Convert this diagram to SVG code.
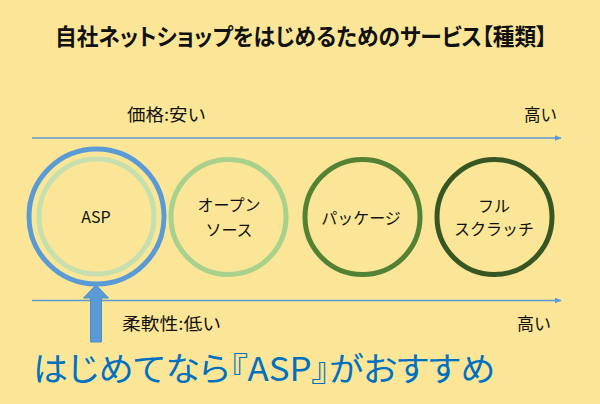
<svg xmlns="http://www.w3.org/2000/svg" width="600" height="404" viewBox="0 0 600 404">
<defs>
<style>
.t{font-family:"Noto Sans CJK JP","Liberation Sans",sans-serif;fill:#111;}
.lbl{font-size:16px;text-anchor:middle;}
.ax{font-size:17px;}
.ring{fill:none;stroke-width:5;}
.axis{stroke:#5B9BD5;stroke-width:1.3;fill:none;}
.p{font-feature-settings:"palt";}
</style>
<marker id="ah" viewBox="0 0 10 10" refX="9" refY="5" markerWidth="7" markerHeight="6" markerUnits="userSpaceOnUse" orient="auto" preserveAspectRatio="none">
<path d="M0,0 L10,5 L0,10 z" fill="#5B9BD5"/>
</marker>
</defs>
<rect width="600" height="404" fill="#FBE697"/>
<text id="title" class="t p" x="55" y="45" font-size="23" font-weight="bold" textLength="492" lengthAdjust="spacingAndGlyphs">自社ネットショップをはじめるためのサービス【種類】</text>
<text class="t ax" x="127" y="121" textLength="79" lengthAdjust="spacingAndGlyphs">価格:安い</text>
<text class="t ax" x="524" y="121" textLength="33" lengthAdjust="spacingAndGlyphs">高い</text>
<text class="t ax" x="122" y="330" textLength="99" lengthAdjust="spacingAndGlyphs">柔軟性:低い</text>
<text class="t ax" x="517" y="330" textLength="34" lengthAdjust="spacingAndGlyphs">高い</text>
<g id="connectors">
<line class="axis" x1="32" y1="138" x2="561" y2="138" marker-end="url(#ah)"/>
<line class="axis" x1="32" y1="300.5" x2="561" y2="300.5" marker-end="url(#ah)"/>
<polygon points="96,285 108.5,298 101.5,298 101.5,342 90.5,342 90.5,298 83.5,298" fill="#5B9BD5" stroke="#4F8CC9" stroke-width="1"/>
</g>
<g id="asp">
<circle class="ring" cx="96.5" cy="216.5" r="67.5" stroke="#5B9BD5"/>
<circle class="ring" cx="96.5" cy="216.5" r="57.5" stroke="#C7DFAE"/>
<text class="t lbl" x="96" y="223">ASP</text>
</g>
<g id="opensource">
<circle class="ring" cx="228.5" cy="217" r="57.5" stroke="#A9D18E"/>
<text class="t lbl" x="229" y="211">オープン</text>
<text class="t lbl" x="229" y="236">ソース</text>
</g>
<g id="package">
<circle class="ring" cx="362.5" cy="217" r="57.5" stroke="#548235"/>
<text class="t lbl" x="361" y="224">パッケージ</text>
</g>
<g id="fullscratch">
<circle class="ring" cx="494.5" cy="217" r="57.5" stroke="#375623"/>
<text class="t lbl" x="494" y="212">フル</text>
<text class="t lbl" x="494" y="235">スクラッチ</text>
</g>
<text id="recommend" class="p" x="33" y="381" font-family="Noto Sans CJK JP, sans-serif" font-size="33" fill="#0070C0" textLength="462" lengthAdjust="spacingAndGlyphs">はじめてなら『ASP』がおすすめ</text>
</svg>
